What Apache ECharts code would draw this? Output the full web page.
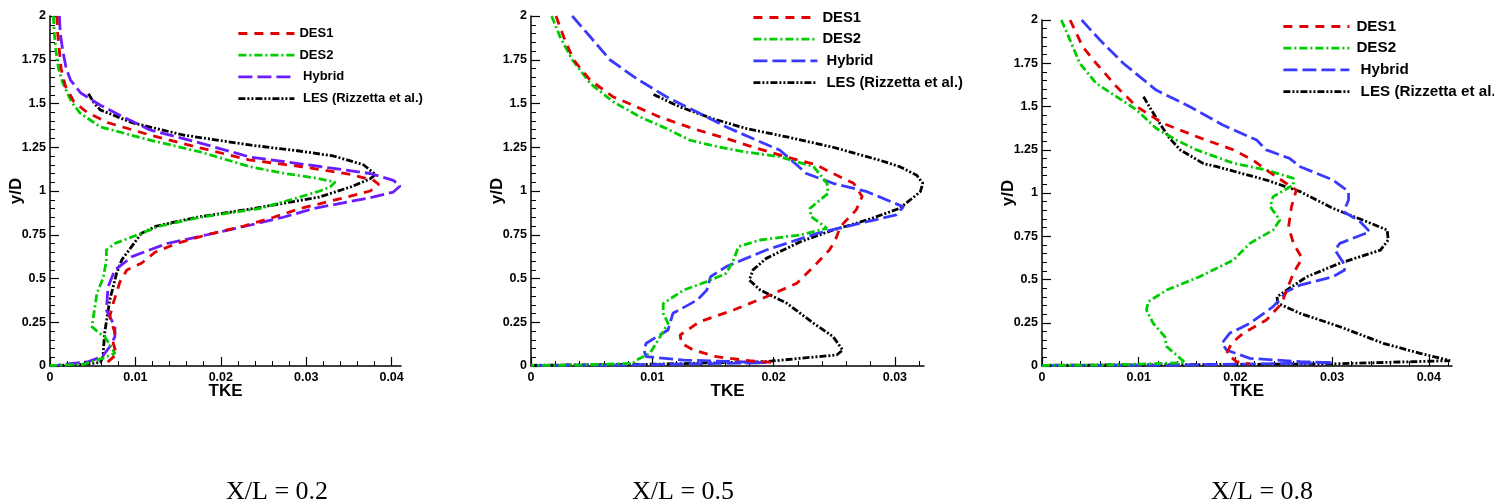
<!DOCTYPE html>
<html>
<head>
<meta charset="utf-8">
<script src="https://cdn.jsdelivr.net/npm/echarts@6/dist/echarts.min.js"></script>
<style>
  html, body { margin: 0; padding: 0; background: #fff; }
  #chart { width: 1494px; height: 502px; }
</style>
</head>
<body>
<div id="chart"></div>
<script>
// ---------------- data ----------------
const seriesLabels = ['DES1', 'DES2', ' Hybrid', ' LES (Rizzetta et al.)'];
const captions = ['X/L = 0.2', 'X/L = 0.5', 'X/L = 0.8'];
const xMaxByPanel = [0.0411, 0.0324, 0.0424];
const xTicksByPanel = [
  [0, 0.01, 0.02, 0.03, 0.04],
  [0, 0.01, 0.02, 0.03],
  [0, 0.01, 0.02, 0.03, 0.04]
];
const yTicks = [0, 0.25, 0.5, 0.75, 1, 1.25, 1.5, 1.75, 2];

// Panel 1 : X/L = 0.2   [TKE, y/D]
const p1_des1 = [[0.0008,2.0],[0.0009,1.9],[0.0011,1.8],[0.0013,1.7],[0.0018,1.6],[0.0028,1.51],[0.0043,1.451],[0.0068,1.39],[0.0117,1.32],[0.0176,1.246],[0.0234,1.177],[0.0293,1.14],[0.0352,1.095],[0.0379,1.061],[0.0385,1.038],[0.0375,1.0],[0.0348,0.966],[0.0293,0.9],[0.0262,0.85],[0.0227,0.8],[0.0184,0.75],[0.0148,0.7],[0.0123,0.65],[0.0107,0.587],[0.009,0.549],[0.0082,0.482],[0.0074,0.358],[0.007,0.282],[0.0076,0.19],[0.0074,0.13],[0.0078,0.067],[0.0068,0.025],[0.006,0.01]];
const p1_des2 = [[0.0004,2.0],[0.0005,1.9],[0.0007,1.8],[0.001,1.7],[0.0015,1.617],[0.0025,1.51],[0.0035,1.446],[0.0059,1.366],[0.0117,1.291],[0.0176,1.223],[0.0234,1.139],[0.0275,1.1],[0.031,1.075],[0.0334,1.051],[0.0328,1.023],[0.0316,1.0],[0.0293,0.966],[0.0246,0.9],[0.0176,0.85],[0.0129,0.8],[0.0107,0.758],[0.0076,0.70],[0.0066,0.663],[0.0066,0.6],[0.0062,0.5],[0.0055,0.417],[0.0053,0.35],[0.0049,0.225],[0.0057,0.19],[0.0064,0.168],[0.0076,0.073],[0.0062,0.045],[0.004,0.01],[0.001,0.004],[0,0.003]];
const p1_hyb = [[0.0011,2.0],[0.0012,1.9],[0.0015,1.8],[0.0019,1.7],[0.0024,1.634],[0.0036,1.56],[0.0059,1.49],[0.0087,1.42],[0.0117,1.349],[0.0176,1.274],[0.0234,1.194],[0.0316,1.14],[0.0375,1.1],[0.0402,1.061],[0.041,1.029],[0.0402,0.994],[0.0379,0.966],[0.0309,0.9],[0.0273,0.85],[0.023,0.8],[0.0184,0.75],[0.0137,0.7],[0.0096,0.625],[0.0076,0.549],[0.0068,0.453],[0.0066,0.32],[0.0072,0.263],[0.0076,0.225],[0.0076,0.168],[0.007,0.11],[0.0061,0.053],[0.0045,0.025],[0.001,0.005],[0,0.003]];
const p1_les = [[0.0045,1.556],[0.0052,1.5],[0.0059,1.463],[0.0097,1.389],[0.0156,1.32],[0.0234,1.263],[0.029,1.23],[0.0332,1.2],[0.0367,1.15],[0.0381,1.095],[0.0375,1.07],[0.0352,1.023],[0.0316,0.966],[0.0238,0.9],[0.0172,0.85],[0.0125,0.8],[0.0107,0.758],[0.0084,0.606],[0.0078,0.53],[0.007,0.377],[0.0064,0.19],[0.0062,0.053],[0.0059,0.02],[0.003,0.006],[0,0.003]];

// Panel 2 : X/L = 0.5
const p2_des1 = [[0.00206,2.0],[0.0027,1.88],[0.0035,1.75],[0.0049,1.632],[0.0068,1.537],[0.0084,1.49],[0.0106,1.423],[0.0134,1.356],[0.0161,1.3],[0.0183,1.251],[0.0208,1.2],[0.0235,1.15],[0.0249,1.10],[0.0266,1.044],[0.0273,0.968],[0.0268,0.891],[0.0255,0.796],[0.0251,0.72],[0.0246,0.663],[0.0233,0.568],[0.0219,0.472],[0.0194,0.396],[0.0167,0.32],[0.0139,0.253],[0.0123,0.177],[0.0124,0.13],[0.0134,0.091],[0.0153,0.053],[0.018,0.03],[0.02,0.02]];
const p2_des2 = [[0.0017,2.0],[0.0024,1.88],[0.0034,1.75],[0.0049,1.613],[0.0068,1.509],[0.009,1.423],[0.0112,1.356],[0.0131,1.29],[0.0156,1.25],[0.0175,1.225],[0.0205,1.196],[0.0233,1.139],[0.0244,1.044],[0.0245,0.987],[0.023,0.901],[0.0231,0.853],[0.0244,0.787],[0.0222,0.749],[0.0189,0.72],[0.0171,0.682],[0.0167,0.606],[0.0161,0.53],[0.0145,0.482],[0.0126,0.434],[0.0109,0.358],[0.0109,0.301],[0.0113,0.244],[0.0104,0.139],[0.0098,0.072],[0.0087,0.034],[0.0084,0.015],[0.004,0.005],[0,0.003]];
const p2_hyb = [[0.0034,2.0],[0.0049,1.88],[0.0065,1.75],[0.0087,1.642],[0.0112,1.537],[0.0137,1.451],[0.0161,1.366],[0.0186,1.29],[0.0205,1.234],[0.0219,1.15],[0.0227,1.10],[0.0249,1.044],[0.0277,0.996],[0.0307,0.91],[0.0301,0.863],[0.0271,0.815],[0.0236,0.758],[0.0194,0.663],[0.0161,0.568],[0.0148,0.51],[0.0145,0.434],[0.0137,0.377],[0.0117,0.301],[0.0113,0.206],[0.0095,0.13],[0.0093,0.091],[0.0095,0.053],[0.0126,0.034],[0.0167,0.025],[0.0194,0.019],[0.008,0.006],[0,0.003]];
const p2_les = [[0.0101,1.552],[0.0123,1.48],[0.015,1.413],[0.0178,1.356],[0.0211,1.309],[0.0249,1.25],[0.0288,1.175],[0.0304,1.139],[0.0318,1.09],[0.0323,1.044],[0.0321,0.996],[0.0304,0.901],[0.0277,0.834],[0.0249,0.777],[0.0222,0.71],[0.0194,0.615],[0.0183,0.549],[0.018,0.491],[0.0189,0.434],[0.0211,0.358],[0.0233,0.244],[0.0249,0.168],[0.0257,0.091],[0.0252,0.063],[0.0222,0.044],[0.0194,0.025],[0.01,0.01],[0,0.004]];

// Panel 3 : X/L = 0.8
const p3_des1 = [[0.0029,2.0],[0.0034,1.942],[0.0042,1.846],[0.0056,1.75],[0.0077,1.615],[0.0098,1.499],[0.0125,1.403],[0.016,1.326],[0.0198,1.249],[0.0218,1.191],[0.0232,1.133],[0.0263,1.017],[0.0258,0.921],[0.0255,0.805],[0.026,0.709],[0.0269,0.622],[0.026,0.536],[0.0253,0.439],[0.0248,0.362],[0.0232,0.266],[0.0208,0.189],[0.0196,0.131],[0.0191,0.073],[0.0201,0.025],[0.0215,0.012]];
const p3_des2 = [[0.002,2.0],[0.0029,1.884],[0.0039,1.75],[0.0056,1.634],[0.0077,1.557],[0.0098,1.48],[0.0118,1.374],[0.0139,1.306],[0.016,1.249],[0.0198,1.172],[0.0232,1.133],[0.026,1.085],[0.026,1.046],[0.0239,0.979],[0.0236,0.921],[0.0246,0.844],[0.0239,0.786],[0.0215,0.709],[0.0198,0.613],[0.0163,0.516],[0.0129,0.439],[0.011,0.372],[0.0108,0.324],[0.0115,0.247],[0.0127,0.169],[0.0129,0.112],[0.0141,0.054],[0.0148,0.019],[0.007,0.006],[0,0.003]];
const p3_hyb = [[0.0041,2.0],[0.006,1.884],[0.0084,1.75],[0.0118,1.595],[0.0153,1.499],[0.0187,1.393],[0.0222,1.306],[0.0232,1.249],[0.0256,1.2],[0.0267,1.152],[0.0301,1.075],[0.0317,1.008],[0.0317,0.96],[0.0312,0.892],[0.0329,0.834],[0.0339,0.776],[0.0308,0.709],[0.0303,0.67],[0.0312,0.594],[0.0313,0.555],[0.0301,0.516],[0.0267,0.468],[0.0253,0.43],[0.0239,0.343],[0.0215,0.247],[0.0194,0.189],[0.0186,0.131],[0.0191,0.092],[0.0215,0.044],[0.0267,0.025],[0.0301,0.019],[0.015,0.006],[0,0.003]];
const p3_les = [[0.0105,1.557],[0.0111,1.499],[0.0122,1.40],[0.0132,1.316],[0.0143,1.249],[0.0167,1.17],[0.0181,1.152],[0.0232,1.075],[0.0267,1.008],[0.0301,0.911],[0.0336,0.834],[0.0357,0.786],[0.0358,0.728],[0.035,0.67],[0.0308,0.594],[0.0274,0.516],[0.0253,0.439],[0.0243,0.40],[0.0244,0.362],[0.0267,0.304],[0.0308,0.227],[0.0353,0.131],[0.0391,0.073],[0.0422,0.031],[0.03,0.012],[0,0.004]];

const panelData = [
  [p1_des1, p1_des2, p1_hyb, p1_les],
  [p2_des1, p2_des2, p2_hyb, p2_les],
  [p3_des1, p3_des2, p3_hyb, p3_les]
];

// ---------------- styles / layout ----------------
const SANS = '"Liberation Sans", Arial, Helvetica, sans-serif';
const SERIF = '"Liberation Serif", "Times New Roman", Times, serif';
const gridsLayout = [
  { left: 50, top: 16, width: 351, height: 350 },
  { left: 531, top: 16, width: 393, height: 350 },
  { left: 1042, top: 20, width: 410, height: 346 }
];
const legendLayout = [
  { left: 232, top: 22, itemWidth: 56, itemGap: 8.7, padLeft: 0, fontSize: 13 },
  { left: 747, top: 5, itemWidth: 64, itemGap: 6.7, padLeft: 0, fontSize: 14.8 },
  { left: 1277, top: 14, itemWidth: 66, itemGap: 6.7, padLeft: 2, fontSize: 15.2 }
];
const captionLeft = [221, 627, 1206];
const hybridColors = ['#6a1cff', '#3a3aff', '#3a3aff'];
const seriesStyles = [
  { color: '#e00000', type: [9, 7] },
  { color: '#00cc00', type: [8, 3, 2, 3] },
  { color: null, type: [14, 5] },
  { color: '#000000', type: [7, 2, 2, 2, 2, 2] }
];

const option = {
  animation: false,
  backgroundColor: '#ffffff',
  title: captions.map((t, i) => ({
    text: t, left: captionLeft[i], top: 474,
    textStyle: { fontFamily: SERIF, fontWeight: 'normal', fontSize: 26, color: '#000' }
  })),
  grid: gridsLayout.map(g => Object.assign({ containLabel: false }, g)),
  legend: legendLayout.map((L, p) => ({
    orient: 'vertical',
    left: L.left, top: L.top,
    itemWidth: L.itemWidth, itemHeight: 14, itemGap: L.itemGap,
    data: seriesLabels.map(n => n + ' '.repeat(p)),
    selectedMode: false,
    itemStyle: { opacity: 0 },
    lineStyle: { width: 2.8 },
    textStyle: { fontFamily: SANS, fontWeight: 'bold', fontSize: L.fontSize, color: '#000', padding: [0, 0, 4, L.padLeft] }
  })),
  xAxis: xMaxByPanel.map((mx, i) => ({
    type: 'value', gridIndex: i, min: 0, max: mx, interval: 0.01,
    name: 'TKE', nameLocation: 'middle', nameGap: 17, nameMoveOverlap: false,
    nameTextStyle: { fontFamily: SANS, fontWeight: 'bold', fontSize: 17, color: '#000' },
    axisLine: { show: true, onZero: false, lineStyle: { color: '#000', width: 1.5 } },
    axisTick: { show: true, inside: true, length: 9, customValues: xTicksByPanel[i], lineStyle: { color: '#000', width: 1.2 } },
    minorTick: { show: true, splitNumber: 5, length: 5, lineStyle: { color: '#000', width: 1 } },
    axisLabel: { customValues: xTicksByPanel[i], margin: 5, fontFamily: SANS, fontWeight: 'bold', fontSize: 12.5, color: '#000' },
    splitLine: { show: false }
  })),
  yAxis: [0, 1, 2].map(i => ({
    type: 'value', gridIndex: i, min: 0, max: 2, interval: 0.25,
    name: 'y/D', nameLocation: 'middle', nameGap: 25, nameRotate: 90, nameMoveOverlap: false,
    nameTextStyle: { fontFamily: SANS, fontWeight: 'bold', fontSize: 17, color: '#000' },
    axisLine: { show: true, onZero: false, lineStyle: { color: '#000', width: 1.5 } },
    axisTick: { show: true, inside: true, length: 9, customValues: yTicks, lineStyle: { color: '#000', width: 1.2 } },
    minorTick: { show: true, splitNumber: 5, length: 5, lineStyle: { color: '#000', width: 1 } },
    axisLabel: { customValues: yTicks, margin: 4, fontFamily: SANS, fontWeight: 'bold', fontSize: 12.5, color: '#000' },
    splitLine: { show: false }
  })),
  series: []
};

panelData.forEach((sets, p) => {
  sets.forEach((data, k) => {
    const st = seriesStyles[k];
    const color = st.color || hybridColors[p];
    option.series.push({
      name: seriesLabels[k] + ' '.repeat(p),
      type: 'line',
      xAxisIndex: p, yAxisIndex: p,
      data: data,
      symbol: 'none',
      smooth: false,
      color: color,
      lineStyle: { color: color, width: 2.8, type: st.type, cap: 'butt' },
      z: 10 - k
    });
  });
});

const chart = echarts.init(document.getElementById('chart'), null, { renderer: 'canvas' });
chart.setOption(option);
</script>
</body>
</html>
